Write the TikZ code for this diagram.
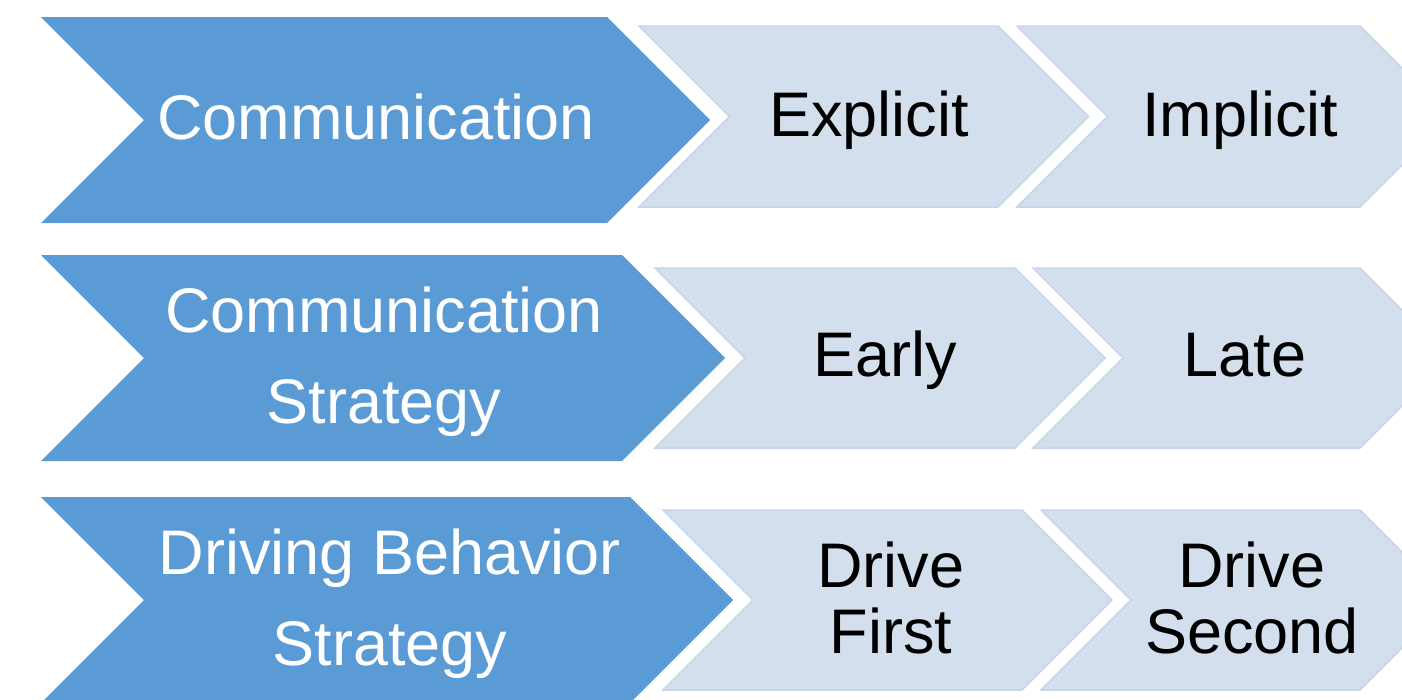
\documentclass[tikz,border=0pt]{standalone}
\usepackage{fontspec}
\setmainfont{Liberation Sans}

\definecolor{catblue}{RGB}{91,155,213}
\definecolor{optfill}{RGB}{212,223,238}
\definecolor{optline}{RGB}{200,213,233}

% chevron: #1 style, #2 left x, #3 top right x, #4 top y, #5 bottom y
\newcommand{\chevron}[5]{%
  \pgfmathsetmacro{\chevh}{(#5-#4)/2}
  \path[#1] (#2,#4) -- (#3,#4) -- ++(\chevh,\chevh) -- (#3,#5)
    -- (#2,#5) -- ++(\chevh,-\chevh) -- cycle;}

\tikzset{
  cat/.style={fill=catblue},
  opt/.style={fill=optfill,draw=optline,line width=1.5pt,line join=miter},
  cattext/.style={text=white,align=center,inner sep=0pt,
    font=\fontsize{63}{91}\selectfont},
  opttext/.style={text=black,align=center,inner sep=0pt,
    font=\fontsize{63}{66}\selectfont}
}

\begin{document}
\begin{tikzpicture}[x=1pt,y=-1pt]
  \useasboundingbox (0,0) rectangle (1402,699);
  \clip (0,0) rectangle (1402,699);

  % row 1
  \chevron{cat}{41}{607}{17}{223}
  \chevron{opt}{639}{998}{26}{207}
  \chevron{opt}{1017}{1360}{26}{207}
  % row 2
  \chevron{cat}{41}{622}{255}{461}
  \chevron{opt}{655}{1015}{268}{448}
  \chevron{opt}{1033}{1360}{268}{448}
  % row 3
  \chevron{cat}{41}{630}{497}{703}
  \chevron{opt}{663}{1022}{510}{690}
  \chevron{opt}{1041}{1360}{510}{690}

  \node (comm) at (376,116.5) [cattext]{Communication};
  \node (explicit) at (869,120) [opttext]{Explicit};
  \node (implicit) at (1240,120) [opttext]{Implicit};

  \node (commstrat) at (384,362) [cattext]{Communication\\Strategy};
  \node (early) at (885,360.5) [opttext]{Early};
  \node (late) at (1245,355.5) [opttext]{Late};

  \node (drivestrat) at (390,604) [cattext]{Driving Behavior\\Strategy};
  \node (drivefirst) at (891,597.5) [opttext]{Drive\\First};
  \node (drivesecond) at (1252,597.5) [opttext]{Drive\\Second};
\end{tikzpicture}
\end{document}
